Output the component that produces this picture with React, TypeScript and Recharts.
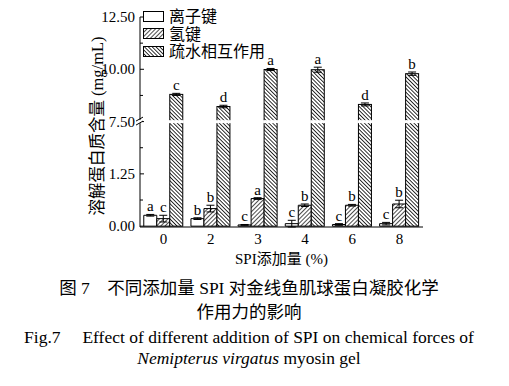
import {BarChart, Bar, XAxis, YAxis, ErrorBar, LabelList, Legend, Label} from 'recharts';

// SPI 添加量 (%)
const categories = ['0', '2', '3', '4', '6', '8'];

// 离子键
const ionic = [0.26, 0.18, 0.03, 0.06, 0.04, 0.06];
const ionicErr = [0.02, 0.02, 0.01, 0.08, 0.02, 0.03];
const ionicSig = ['a', 'b', 'c', 'c', 'c', 'c'];

// 氢键
const hydrogen = [0.18, 0.42, 0.66, 0.5, 0.5, 0.53];
const hydrogenErr = [0.08, 0.08, 0.02, 0.03, 0.02, 0.09];
const hydrogenSig = ['c', 'b', 'a', 'b', 'b', 'b'];

// 疏水相互作用
const hydrophobic = [8.8, 8.22, 9.99, 9.98, 8.32, 9.79];
const hydrophobicErr = [0.05, 0.06, 0.05, 0.12, 0.07, 0.08];
const hydrophobicSig = ['c', 'd', 'a', 'a', 'd', 'b'];

const yTicks = [0, 0.625, 1.25, 1.875, 7.5, 8.75, 10, 11.25, 12.5];
const yTickLabels = ['0.00', '', '1.25', '', '7.50', '', '10.00', '', '12.50'];

const seriesNames = ['离子键', '氢键', '疏水相互作用'];

// 断轴: 0~2.5 与 7.5~12.5 各占一半高度
const LOW_MAX = 2.5;
const UP_MIN = 7.5;
const toAxis = (v: number) => (v <= LOW_MAX ? v * 2 : 5 + (v - UP_MIN));
const errToAxis = (v: number, e: number) => (v <= LOW_MAX ? e * 2 : e);

const data = categories.map((c, i) => ({
  name: c,
  io: toAxis(ionic[i]),
  ioE: errToAxis(ionic[i], ionicErr[i]),
  ioS: ionicSig[i],
  hb: toAxis(hydrogen[i]),
  hbE: errToAxis(hydrogen[i], hydrogenErr[i]),
  hbS: hydrogenSig[i],
  hp: toAxis(hydrophobic[i]),
  hpE: errToAxis(hydrophobic[i], hydrophobicErr[i]),
  hpS: hydrophobicSig[i],
}));

const AX = 140; // y轴位置
const PPU = 20.8; // 每单位像素 (坐标轴空间)
const serif = '"Liberation Serif", "Times New Roman", serif';
const cjk = '"Liberation Serif", "Noto Sans CJK SC", serif';

const YTick = (props: any) => {
  const {y, index} = props;
  const label = yTickLabels[index];
  const isBreak = yTicks[index] === UP_MIN;
  return (
    <g>
      <line x1={AX} x2={AX + (label ? 4 : 3)} y1={y} y2={y} stroke="#000" strokeWidth={1} />
      {label && (
        <text x={AX - 5} y={y} textAnchor="end" dominantBaseline="central" fontSize={15} fontFamily={serif} fill="#000">
          {label}
        </text>
      )}
      {isBreak && (
        <g>
          <rect x={AX - 2} y={y - 1.5} width={4} height={3} fill="#fff" />
          <line x1={AX - 4} y1={y - 0.5} x2={AX + 3} y2={y - 4.5} stroke="#000" strokeWidth={1} />
          <line x1={AX - 4} y1={y + 3.5} x2={AX + 3} y2={y - 0.5} stroke="#000" strokeWidth={1} />
        </g>
      )}
    </g>
  );
};

// 疏水柱: 在断轴处留白
const BreakBar = (props: any) => {
  const {x, y, width, height} = props;
  const breakY = y + height - 5 * PPU;
  return (
    <g>
      <rect x={x} y={y} width={width} height={height} fill="url(#hatchBack)" stroke="#000" strokeWidth={1} />
      {breakY > y && <rect x={x - 1} y={breakY - 2} width={width + 2} height={3} fill="#fff" />}
    </g>
  );
};

const sigLabel = (sig: string[], errKey: 'ioE' | 'hbE' | 'hpE') => (props: any) => {
  const {x, y, width, index} = props;
  const e = data[index][errKey] * PPU;
  return (
    <text x={x + width / 2} y={y - e - 3} textAnchor="middle" fontSize={15} fontFamily={serif} fill="#000">
      {sig[index]}
    </text>
  );
};

const fills = ['#fff', 'url(#hatchFwd)', 'url(#hatchBack)'];

const LegendBox = () => (
  <div style={{fontFamily: cjk, fontSize: 16, color: '#000', lineHeight: '17.5px'}}>
    {seriesNames.map((n, i) => (
      <div key={n} style={{display: 'flex', alignItems: 'center', height: 17.5}}>
        <svg width={22} height={12} style={{marginRight: 4}}>
          <rect x={0.5} y={0.5} width={20} height={10} fill={fills[i]} stroke="#000" strokeWidth={1} />
        </svg>
        <span>{n}</span>
      </div>
    ))}
  </div>
);

export default function App() {
  return (
    <div style={{position: 'absolute', left: 0, top: 0, width: 509, height: 386, background: '#fff'}}>
      <BarChart
        width={509}
        height={270}
        data={data}
        margin={{top: 17, right: 86, bottom: 0, left: 0}}
        barCategoryGap="8%"
        barGap={0}
      >
        <defs>
          <pattern id="hatchFwd" patternUnits="userSpaceOnUse" width={3} height={3} patternTransform="rotate(45)">
            <rect width={3} height={3} fill="#fff" />
            <line x1={0} y1={0} x2={0} y2={3} stroke="#000" strokeWidth={1.4} />
          </pattern>
          <pattern id="hatchBack" patternUnits="userSpaceOnUse" width={2.7} height={2.7} patternTransform="rotate(-45)">
            <rect width={2.7} height={2.7} fill="#fff" />
            <line x1={0} y1={0} x2={0} y2={2.7} stroke="#000" strokeWidth={1.6} />
          </pattern>
        </defs>
        <XAxis
          dataKey="name"
          axisLine={{stroke: '#000', strokeWidth: 1}}
          tickLine={false}
          tickSize={0}
          tickMargin={6}
          height={43}
          tick={{fill: '#000', fontSize: 15, fontFamily: serif}}
          interval={0}
        />
        <YAxis
          type="number"
          domain={[0, 10]}
          ticks={yTicks.map(toAxis)}
          interval={0}
          width={140}
          axisLine={{stroke: '#000', strokeWidth: 1}}
          tickLine={false}
          tick={<YTick />}
        >
          <Label
            content={() => (
              <text
                transform="translate(97,126) rotate(-90)"
                textAnchor="middle"
                dominantBaseline="central"
                fontSize={16.5}
                fontFamily={cjk}
                fill="#000"
              >
                溶解蛋白质含量 (mg/mL)
              </text>
            )}
          />
        </YAxis>
        <Legend
          layout="vertical"
          align="center"
          verticalAlign="middle"
          content={<LegendBox />}
          wrapperStyle={{left: 143, top: 8, width: 140, height: 56}}
        />
        <Bar dataKey="io" fill="#fff" stroke="#000" strokeWidth={1} isAnimationActive={false}>
          <ErrorBar dataKey="ioE" width={4} stroke="#000" strokeWidth={1} direction="y" />
          <LabelList dataKey="ioS" content={sigLabel(ionicSig, 'ioE')} />
        </Bar>
        <Bar dataKey="hb" fill="url(#hatchFwd)" stroke="#000" strokeWidth={1} isAnimationActive={false}>
          <ErrorBar dataKey="hbE" width={4} stroke="#000" strokeWidth={1} direction="y" />
          <LabelList dataKey="hbS" content={sigLabel(hydrogenSig, 'hbE')} />
        </Bar>
        <Bar dataKey="hp" fill="url(#hatchBack)" shape={<BreakBar />} isAnimationActive={false}>
          <ErrorBar dataKey="hpE" width={4} stroke="#000" strokeWidth={1} direction="y" />
          <LabelList dataKey="hpS" content={sigLabel(hydrophobicSig, 'hpE')} />
        </Bar>
      </BarChart>
      <div style={{position: 'absolute', left: 140, width: 283, top: 250, textAlign: 'center', fontFamily: cjk, fontSize: 15, lineHeight: '18px', color: '#000'}}>
        SPI添加量 (%)
      </div>
      <div style={{position: 'absolute', left: 0, width: 498, top: 278, textAlign: 'center', fontFamily: cjk, fontSize: 17.5, lineHeight: '20px', color: '#000', whiteSpace: 'pre'}}>
        {'图 7\u3000不同添加量 SPI 对金线鱼肌球蛋白凝胶化学'}
      </div>
      <div style={{position: 'absolute', left: 0, width: 498, top: 302, textAlign: 'center', fontFamily: cjk, fontSize: 17.5, lineHeight: '20px', color: '#000'}}>
        作用力的影响
      </div>
      <div style={{position: 'absolute', left: 0, width: 498, top: 327, textAlign: 'center', fontFamily: serif, fontSize: 17.5, lineHeight: '20px', color: '#000', whiteSpace: 'pre'}}>
        {'Fig.7\u2003 Effect of different addition of SPI on chemical forces of'}
      </div>
      <div style={{position: 'absolute', left: 0, width: 498, top: 348, textAlign: 'center', fontFamily: serif, fontSize: 17.5, lineHeight: '20px', color: '#000'}}>
        <i>Nemipterus virgatus</i> myosin gel
      </div>
    </div>
  );
}
